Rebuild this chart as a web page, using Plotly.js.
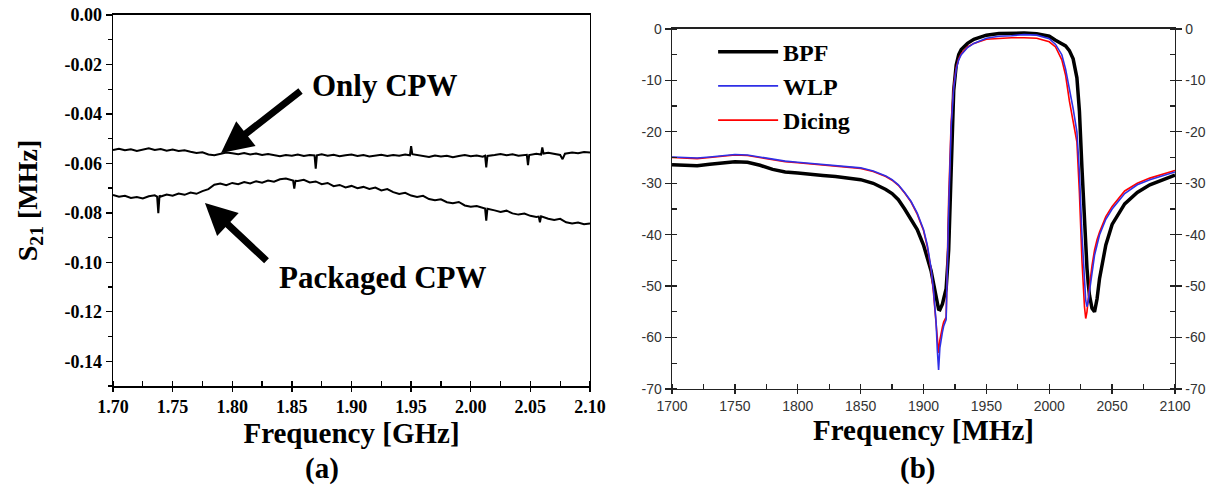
<!DOCTYPE html>
<html>
<head>
<meta charset="utf-8">
<script src="https://cdn.plot.ly/plotly-3.0.1.min.js"></script>
<style>
  html, body { margin: 0; padding: 0; background: #ffffff; }
  #chart { width: 1219px; height: 493px; }
</style>
</head>
<body>
<div id="chart"></div>
<script>
// ---------- Panel (a): S21 of CPW lines ----------
const freqOnlyGHz = [1.700,1.705,1.710,1.715,1.720,1.725,1.730,1.735,1.740,1.745,1.750,1.755,1.760,1.765,1.770,1.775,1.780,1.785,1.790,1.795,
  1.800,1.805,1.810,1.815,1.820,1.825,1.830,1.835,1.840,1.845,1.850,1.855,1.860,1.865,1.869,1.870,1.871,1.875,1.880,1.885,
  1.890,1.895,1.900,1.905,1.910,1.915,1.920,1.925,1.930,1.935,1.940,1.945,1.949,1.950,1.951,1.955,1.960,1.965,1.970,1.975,
  1.980,1.985,1.990,1.995,2.000,2.005,2.010,2.012,2.013,2.014,2.020,2.025,2.030,2.035,2.040,2.047,2.048,2.049,2.055,2.059,
  2.060,2.061,2.065,2.070,2.075,2.077,2.079,2.085,2.090,2.095,2.100];
const s21Only = [-0.0546,-0.0541,-0.0547,-0.0543,-0.0550,-0.0544,-0.0539,-0.0546,-0.0542,-0.0549,-0.0544,-0.0550,-0.0547,-0.0553,-0.0558,-0.0555,-0.0564,-0.0567,-0.0561,-0.0556,
  -0.0559,-0.0563,-0.0558,-0.0564,-0.0560,-0.0566,-0.0562,-0.0567,-0.0571,-0.0566,-0.0569,-0.0564,-0.0570,-0.0566,-0.0568,-0.0621,-0.0567,-0.0563,-0.0569,-0.0565,
  -0.0571,-0.0567,-0.0564,-0.0570,-0.0566,-0.0572,-0.0568,-0.0565,-0.0570,-0.0566,-0.0569,-0.0564,-0.0567,-0.0530,-0.0563,-0.0566,-0.0571,-0.0574,-0.0568,-0.0572,
  -0.0569,-0.0575,-0.0570,-0.0566,-0.0571,-0.0568,-0.0573,-0.0569,-0.0616,-0.0570,-0.0566,-0.0562,-0.0567,-0.0563,-0.0569,-0.0565,-0.0607,-0.0566,-0.0561,-0.0564,
  -0.0535,-0.0560,-0.0557,-0.0562,-0.0566,-0.0583,-0.0561,-0.0556,-0.0559,-0.0554,-0.0556];

const freqPkgGHz = [1.700,1.705,1.710,1.715,1.720,1.725,1.730,1.735,1.737,1.738,1.739,1.740,1.745,1.750,1.755,1.760,1.765,1.770,1.775,1.780,
  1.785,1.790,1.795,1.800,1.805,1.810,1.815,1.820,1.825,1.830,1.835,1.840,1.845,1.850,1.851,1.852,1.853,1.855,1.860,1.865,
  1.870,1.875,1.880,1.885,1.890,1.895,1.900,1.905,1.910,1.915,1.920,1.925,1.930,1.935,1.940,1.945,1.950,1.955,1.960,1.965,
  1.970,1.975,1.980,1.985,1.990,1.995,2.000,2.005,2.010,2.012,2.013,2.014,2.020,2.025,2.030,2.035,2.040,2.045,2.050,2.055,
  2.057,2.058,2.059,2.065,2.070,2.075,2.080,2.085,2.090,2.095,2.100];
const s21Pkg = [-0.0728,-0.0735,-0.0731,-0.0740,-0.0736,-0.0742,-0.0733,-0.0729,-0.0734,-0.0801,-0.0730,-0.0734,-0.0726,-0.0731,-0.0722,-0.0727,-0.0718,-0.0723,-0.0712,-0.0704,
  -0.0686,-0.0681,-0.0688,-0.0679,-0.0684,-0.0675,-0.0681,-0.0672,-0.0678,-0.0669,-0.0674,-0.0664,-0.0661,-0.0668,-0.0669,-0.0702,-0.0670,-0.0671,-0.0666,-0.0677,
  -0.0673,-0.0684,-0.0679,-0.0692,-0.0687,-0.0697,-0.0691,-0.0700,-0.0695,-0.0703,-0.0698,-0.0709,-0.0704,-0.0716,-0.0724,-0.0719,-0.0730,-0.0736,-0.0731,-0.0744,
  -0.0749,-0.0745,-0.0757,-0.0761,-0.0756,-0.0770,-0.0775,-0.0772,-0.0780,-0.0782,-0.0831,-0.0783,-0.0790,-0.0796,-0.0791,-0.0802,-0.0807,-0.0803,-0.0812,-0.0817,
  -0.0815,-0.0838,-0.0814,-0.0824,-0.0829,-0.0824,-0.0838,-0.0843,-0.0839,-0.0846,-0.0843];

const tickValsA_x = [1.70,1.75,1.80,1.85,1.90,1.95,2.00,2.05,2.10];
const tickTextA_x = ['1.70','1.75','1.80','1.85','1.90','1.95','2.00','2.05','2.10'];
const tickValsA_y = [0,-0.02,-0.04,-0.06,-0.08,-0.10,-0.12,-0.14];
const tickTextA_y = ['0.00','-0.02','-0.04','-0.06','-0.08','-0.10','-0.12','-0.14'];

// ---------- Panel (b): filter responses ----------
const freqMHz = [1700,1710,1720,1730,1740,1750,1760,1770,1780,1790,1800,1810,1820,1830,1840,1850,1860,1870,1875,1880,
  1885,1890,1895,1900,1903,1906,1908,1910,1911,1912,1913,1914,1915,1916,1918,1920,1922,1924,1926,1928,
  1930,1935,1940,1950,1960,1970,1980,1990,2000,2005,2010,2013,2016,2019,2022,2024,2026,2028,2029,2030,
  2031,2032,2034,2036,2038,2040,2045,2050,2060,2070,2080,2090,2100];
const bpfDB = [-26.4,-26.5,-26.6,-26.3,-26.0,-25.8,-25.9,-26.5,-27.3,-27.8,-28.0,-28.3,-28.5,-28.7,-29.0,-29.3,-30.0,-31.2,-32.0,-33.2,
  -35.0,-37.0,-39.0,-42.0,-44.5,-47.0,-49.5,-52.5,-53.8,-54.5,-54.6,-54.2,-53.5,-52.5,-50.5,-43.0,-25.0,-12.0,-7.0,-5.0,
  -4.0,-2.8,-2.0,-1.2,-0.9,-0.8,-0.8,-0.9,-1.4,-2.2,-2.8,-3.3,-4.2,-5.8,-9.5,-16.0,-27.0,-37.5,-42.5,-46.5,
  -49.5,-51.8,-54.3,-55.0,-52.5,-48.5,-42.0,-38.0,-34.0,-31.8,-30.3,-29.3,-28.4];
const wlpDB = [-24.9,-25.0,-25.1,-24.9,-24.6,-24.4,-24.5,-24.9,-25.4,-25.7,-25.9,-26.1,-26.3,-26.5,-26.7,-27.0,-27.6,-28.6,-29.3,-30.3,
  -31.8,-33.5,-35.8,-39.0,-42.0,-46.5,-51.0,-57.0,-62.5,-66.3,-62.0,-60.0,-59.0,-57.8,-56.5,-35.0,-19.0,-11.5,-7.8,-6.0,
  -5.0,-3.6,-2.8,-1.8,-1.4,-1.3,-1.1,-1.2,-1.9,-3.0,-5.0,-7.8,-11.5,-15.5,-20.0,-28.0,-40.0,-50.0,-52.8,-54.0,
  -53.0,-51.0,-47.0,-44.0,-42.0,-40.0,-37.0,-35.0,-32.0,-30.3,-29.3,-28.5,-27.8];
const dicingDB = [-25.0,-25.1,-25.2,-25.0,-24.7,-24.5,-24.6,-25.0,-25.5,-25.8,-26.0,-26.2,-26.4,-26.6,-26.8,-27.1,-27.7,-28.7,-29.4,-30.4,
  -31.9,-33.6,-36.0,-39.2,-42.3,-46.8,-51.5,-57.5,-61.0,-63.0,-60.5,-59.0,-58.0,-57.0,-56.0,-33.0,-18.0,-11.0,-7.5,-5.8,
  -4.8,-3.5,-2.8,-2.0,-1.8,-1.7,-1.7,-1.8,-2.5,-3.5,-6.0,-9.0,-14.0,-18.0,-22.0,-32.0,-45.0,-54.0,-56.3,-55.0,
  -52.0,-50.0,-46.0,-43.0,-41.0,-39.5,-36.5,-34.5,-31.5,-30.0,-29.0,-28.2,-27.5];

const tickValsB_x = [1700,1750,1800,1850,1900,1950,2000,2050,2100];
const tickTextB_x = ['1700','1750','1800','1850','1900','1950','2000','2050','2100'];
const tickValsB_y = [0,-10,-20,-30,-40,-50,-60,-70];
const tickTextB_y = ['0','-10','-20','-30','-40','-50','-60','-70'];

const serif = 'Liberation Serif, Times New Roman, serif';
const sans = 'Liberation Sans, Arial, sans-serif';

const traces = [
  {x: freqOnlyGHz, y: s21Only, xaxis: 'x', yaxis: 'y', type: 'scatter', mode: 'lines',
   line: {color: '#000000', width: 2}, name: 'Only CPW', showlegend: false},
  {x: freqPkgGHz, y: s21Pkg, xaxis: 'x', yaxis: 'y', type: 'scatter', mode: 'lines',
   line: {color: '#000000', width: 2}, name: 'Packaged CPW', showlegend: false},
  {x: freqMHz, y: bpfDB, xaxis: 'x2', yaxis: 'y2', type: 'scatter', mode: 'lines',
   line: {color: '#000000', width: 3.5}, name: 'BPF', legendrank: 1},
  {x: freqMHz, y: dicingDB, xaxis: 'x2', yaxis: 'y2', type: 'scatter', mode: 'lines',
   line: {color: '#ff0000', width: 1.6}, name: 'Dicing', legendrank: 3},
  {x: freqMHz, y: wlpDB, xaxis: 'x2', yaxis: 'y2', type: 'scatter', mode: 'lines',
   line: {color: '#2f2fe6', width: 1.6}, name: 'WLP', legendrank: 2},
  // carries the right-hand dB axis (invisible copy of BPF on the mirrored scale)
  {x: freqMHz, y: bpfDB, xaxis: 'x2', yaxis: 'y3', type: 'scatter', mode: 'lines',
   line: {color: 'rgba(0,0,0,0)', width: 0}, opacity: 0, showlegend: false, hoverinfo: 'skip', name: 'BPF (right axis)'}
];

const arrowStyle = {showarrow: true, arrowhead: 2, arrowsize: 0.9, arrowwidth: 7, arrowcolor: '#000000', text: '',
  xref: 'x', yref: 'y', axref: 'x', ayref: 'y'};

const layout = {
  width: 1219, height: 493,
  margin: {l: 0, r: 0, t: 0, b: 0},
  paper_bgcolor: '#ffffff', plot_bgcolor: '#ffffff',
  showlegend: true,
  legend: {x: 0.585, y: 0.94, xanchor: 'left', yanchor: 'top', bgcolor: 'rgba(0,0,0,0)',
           itemwidth: 60, traceorder: 'normal',
           font: {family: serif, size: 24, color: '#000000', weight: 'bold'}},
  xaxis: {domain: [0.0927, 0.4840], anchor: 'y', range: [1.70, 2.10],
          tickvals: tickValsA_x, ticktext: tickTextA_x,
          ticks: 'outside', ticklen: 4, tickwidth: 1.3, tickcolor: '#000',
          minor: {dtick: 0.025, tick0: 1.70, ticks: 'inside', ticklen: 5, tickwidth: 1.3, tickcolor: '#000'},
          showline: true, linecolor: '#000', linewidth: 1.5, mirror: true,
          showgrid: false, zeroline: false,
          tickfont: {family: serif, size: 18, color: '#000', weight: 'bold'},
          title: {text: 'Frequency [GHz]', standoff: 0, font: {family: serif, size: 29, color: '#000', weight: 'bold'}}},
  yaxis: {domain: [0.2170, 0.9696], anchor: 'x', range: [-0.15, 0],
          tickvals: tickValsA_y, ticktext: tickTextA_y,
          ticks: 'outside', ticklen: 6, tickwidth: 1.3, tickcolor: '#000',
          minor: {dtick: 0.01, tick0: 0, ticks: 'outside', ticklen: 4, tickwidth: 1.3, tickcolor: '#000'},
          showline: true, linecolor: '#000', linewidth: 1.5, mirror: true,
          showgrid: false, zeroline: false,
          tickfont: {family: serif, size: 18, color: '#000', weight: 'bold'},
          title: {text: 'S<sub>21</sub> [MHz]', standoff: 18, font: {family: serif, size: 28, color: '#000', weight: 'bold'}}},
  xaxis2: {domain: [0.5513, 0.9639], anchor: 'y2', range: [1700, 2100],
          tickvals: tickValsB_x, ticktext: tickTextB_x,
          ticks: 'outside', ticklen: 4, tickwidth: 1.3, tickcolor: '#222',
          minor: {dtick: 25, tick0: 1700, ticks: 'inside', ticklen: 5, tickwidth: 1.3, tickcolor: '#222'},
          showline: true, linecolor: '#222', linewidth: 1.5, mirror: true,
          showgrid: false, zeroline: false,
          tickfont: {family: sans, size: 14, color: '#333'},
          title: {text: 'Frequency [MHz]', standoff: 2, font: {family: serif, size: 29, color: '#000', weight: 'bold'}}},
  yaxis2: {domain: [0.2110, 0.9412], anchor: 'x2', range: [-70, 0],
          tickvals: tickValsB_y, ticktext: tickTextB_y,
          ticks: 'outside', ticklen: 6, tickwidth: 1.3, tickcolor: '#222',
          minor: {dtick: 5, tick0: 0, ticks: 'inside', ticklen: 5, tickwidth: 1.3, tickcolor: '#222'},
          showline: true, linecolor: '#222', linewidth: 1.5,
          showgrid: false, zeroline: false,
          tickfont: {family: sans, size: 14, color: '#333'}},
  yaxis3: {overlaying: 'y2', side: 'right', anchor: 'x2', range: [-70, 0],
          tickvals: tickValsB_y, ticktext: tickTextB_y,
          ticks: 'outside', ticklen: 6, tickwidth: 1.3, tickcolor: '#222',
          minor: {dtick: 5, tick0: 0, ticks: 'inside', ticklen: 5, tickwidth: 1.3, tickcolor: '#222'},
          showline: true, linecolor: '#222', linewidth: 1.5,
          showgrid: false, zeroline: false,
          tickfont: {family: sans, size: 14, color: '#333'}},
  annotations: [
    Object.assign({}, arrowStyle, {x: 1.7906, y: -0.0558, ax: 1.8585, ay: -0.0303}),
    Object.assign({}, arrowStyle, {x: 1.7771, y: -0.0760, ax: 1.8300, ay: -0.0999}),
    {text: 'Only CPW', xref: 'x', yref: 'y', x: 1.928, y: -0.0287, showarrow: false,
     font: {family: serif, size: 31, color: '#000', weight: 'bold'}},
    {text: 'Packaged CPW', xref: 'x', yref: 'y', x: 1.9264, y: -0.1063, showarrow: false,
     font: {family: serif, size: 31, color: '#000', weight: 'bold'}},
    {text: '(a)', xref: 'paper', yref: 'paper', x: 0.264, y: 0.05, xanchor: 'center', yanchor: 'middle', showarrow: false,
     font: {family: serif, size: 29, color: '#000', weight: 'bold'}},
    {text: '(b)', xref: 'paper', yref: 'paper', x: 0.753, y: 0.05, xanchor: 'center', yanchor: 'middle', showarrow: false,
     font: {family: serif, size: 29, color: '#000', weight: 'bold'}}
  ]
};

Plotly.newPlot('chart', traces, layout, {displayModeBar: false, staticPlot: true});
</script>
</body>
</html>
